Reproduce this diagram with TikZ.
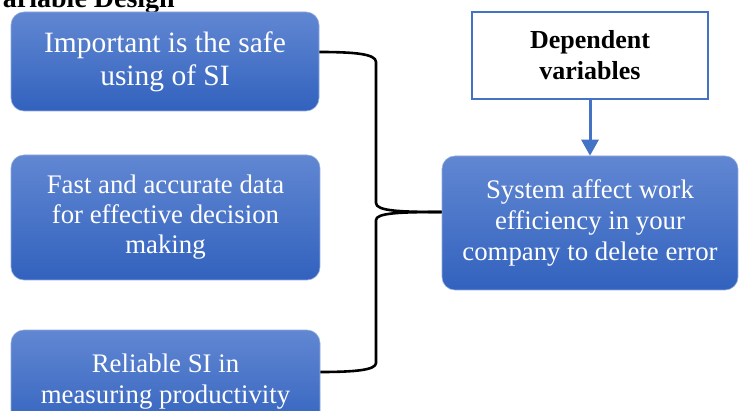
\documentclass[tikz,border=0pt]{standalone}
\usepackage{fontspec}
\setmainfont{Liberation Serif}
\usetikzlibrary{arrows.meta}
\definecolor{boxtop}{HTML}{6187D2}
\definecolor{boxbot}{HTML}{3262BE}
\definecolor{accent}{HTML}{4472C4}
\tikzset{
  bluebox/.style={rounded corners=13pt, top color=boxtop, bottom color=boxbot,
    draw=boxtop!70!white, line width=0.6pt, text=white, align=center,
    inner sep=0pt, font=\fontsize{26.8}{31}\selectfont},
  depbox/.style={draw=accent, line width=2.5pt, fill=white, align=center,
    inner sep=0pt, font=\bfseries\fontsize{26}{31}\selectfont},
  bracket/.style={line width=2.6pt, black, line join=round},
  flow/.style={accent, line width=3pt, -{Triangle[width=17pt,length=16pt]}}
}
\begin{document}
\begin{tikzpicture}[x=1pt,y=1pt]
\useasboundingbox (0,0) rectangle (739,410);
\clip (0,0) rectangle (739,410);
% heading, partly cut by the page edge
\node[anchor=base east, inner sep=0pt, font=\bfseries\fontsize{28}{32}\selectfont]
  (title) at (175,402) {Variable Design};
% independent factors
\node[bluebox, minimum width=308pt, minimum height=99pt,
  font=\fontsize{29.5}{33}\selectfont] (ind1) at (165,348.5)
  {Important is the safe\\using of SI};
\node[bluebox, minimum width=309pt, minimum height=125pt,
  font=\fontsize{26.8}{30}\selectfont] (ind2) at (165.5,192.5)
  {Fast and accurate data\\for effective decision\\making};
\node[bluebox, minimum width=309pt, minimum height=104pt] (ind3) at (165.5,28)
  {Reliable SI in\\measuring productivity};
% dependent side
\node[depbox, minimum width=236pt, minimum height=87pt] (dep) at (590,354.5)
  {Dependent\\variables};
\node[bluebox, minimum width=296pt, minimum height=134pt] (res) at (590,187)
  {System affect work\\efficiency in your\\company to delete error};
\draw[flow] (dep.south) -- (res.north);
% curly bracket joining the three factors
\coordinate (tip) at (res.west |- 0,198);
\draw[bracket] (ind1.east |- 0,358) .. controls (355,358) and (376,356) .. (376,348)
  -- (376,207) .. controls (376,199) and (400,198) .. (tip);
\draw[bracket] (tip) .. controls (400,198) and (376,197) .. (376,190)
  -- (376,47) .. controls (376,40) and (355,38) .. (ind3.east |- 0,38);
\end{tikzpicture}
\end{document}
